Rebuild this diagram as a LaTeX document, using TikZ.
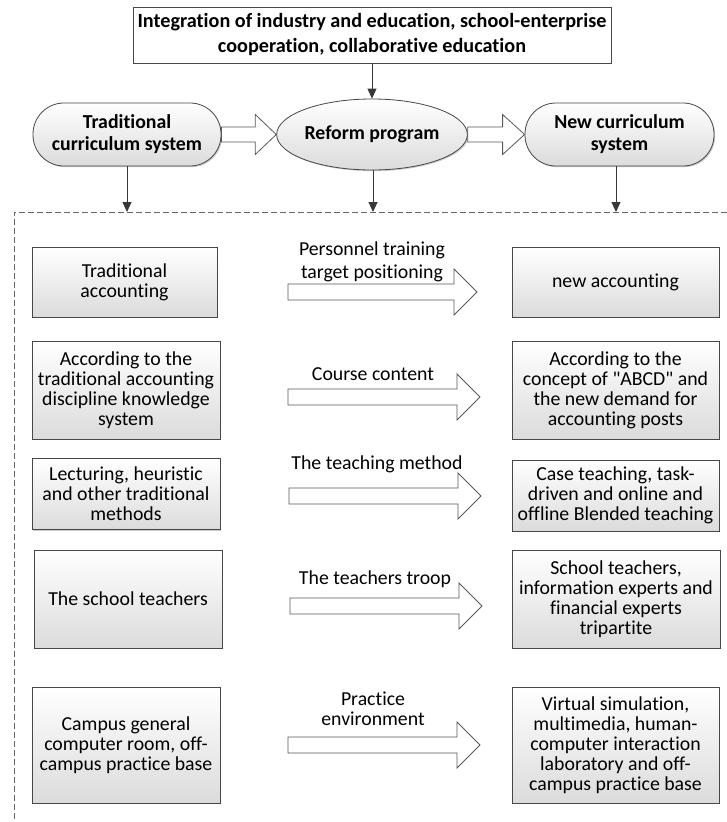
\documentclass[tikz,border=0pt]{standalone}
\usepackage{fontspec}
\setmainfont[Ligatures={NoCommon}]{Carlito}
\usetikzlibrary{shadows,calc,arrows.meta,shapes.geometric}

% Hollow block arrow between two named coordinates:
% #1 start, #2 tip, #3 half body width, #4 half head width, #5 head length
\newcommand{\fatarrow}[5]{%
  \path[blockarrow] let \p1=(#1), \p2=(#2) in
    (\x1,\y1+#3pt) -- (\x2-#5pt,\y1+#3pt) -- (\x2-#5pt,\y1+#4pt) --
    (\x2,\y1) -- (\x2-#5pt,\y1-#4pt) -- (\x2-#5pt,\y1-#3pt) --
    (\x1,\y1-#3pt) -- cycle;}

\tikzset{
  txt/.style={font=\fontsize{19.8}{20}\selectfont, align=center, text=black, inner sep=0pt},
  shade/.style={top color=white, bottom color=black!14,
    drop shadow={shadow xshift=1.2pt, shadow yshift=-1.2pt, fill=black!50, opacity=0.4}},
  box/.style={txt, draw=black!72, line width=0.8pt, shade},
  headbox/.style={txt, draw=black!72, line width=0.8pt, fill=white,
    font=\bfseries\fontsize{20.2}{25}\selectfont},
  stadium/.style={txt, draw=black!72, line width=0.8pt, shade, rounded corners=31pt,
    font=\bfseries\fontsize{19.8}{22}\selectfont},
  oval/.style={txt, draw=black!72, line width=0.8pt, shade, ellipse,
    font=\bfseries\fontsize{19.8}{22}\selectfont},
  link/.style={draw=black!78, line width=0.9pt, -{Triangle[length=10pt,width=9pt]}},
  blockarrow/.style={draw=black!65, line width=0.8pt, fill=white},
  frame/.style={draw=black!60, line width=0.8pt, dash pattern=on 6pt off 3pt},
  lbl/.style={txt}
}

\begin{document}
\begin{tikzpicture}[x=1pt,y=-1pt]
  \useasboundingbox (0,0) rectangle (727,822);

  % dashed frame around the comparison table
  \draw[frame] (727,212) -- (14,212) -- (14,822);

  % header row
  \node[headbox, minimum width=478pt, minimum height=56pt] (top) at (372,35)
    {Integration of industry and education, school-enterprise\\cooperation, collaborative education};
  \node[stadium, minimum width=188pt, minimum height=63pt] (trad) at (127,134.5)
    {Traditional\\curriculum system};
  \node[oval, minimum width=162pt, minimum height=71pt] (reform) at (372,134.5)
    {Reform program};
  \node[stadium, minimum width=189pt, minimum height=63pt] (new) at (619.5,134.5)
    {New curriculum\\system};

  \draw[link] (top.south -| reform) -- (reform.north);
  \fatarrow{trad.east}{reform.west}{7.5}{20}{21}
  \fatarrow{reform.east}{new.west}{7.5}{20}{22}

  \coordinate (d1) at (127,212);
  \coordinate (d2) at (373,212);
  \coordinate (d3) at (616,212);
  \draw[link] (trad.south -| d1) -- (d1);
  \draw[link] (reform.south -| d2) -- (d2);
  \draw[link] (new.south -| d3) -- (d3);

  % row 1
  \node[box, minimum width=185pt, minimum height=70pt] (l1) at (124.5,282)
    {Traditional\\accounting};
  \node[box, minimum width=207pt, minimum height=70pt] (r1) at (615.5,282)
    {new accounting};
  \coordinate (a1s) at (288,292); \coordinate (a1e) at (477,292);
  \fatarrow{a1s}{a1e}{8}{23}{23}
  \node[lbl] (t1) at (372,261.5) {Personnel training\\[3pt]target positioning};

  % row 2
  \node[box, minimum width=188pt, minimum height=98pt] (l2) at (126,390)
    {According to the\\traditional accounting\\discipline knowledge\\system};
  \node[box, minimum width=207pt, minimum height=98pt] (r2) at (615.5,390)
    {According to the\\concept of \textquotedbl ABCD\textquotedbl{} and\\the new demand for\\accounting posts};
  \coordinate (a2s) at (288,397); \coordinate (a2e) at (480,397);
  \fatarrow{a2s}{a2e}{8}{23}{23}
  \node[lbl] (t2) at (373,374) {Course content};

  % row 3
  \node[box, minimum width=188pt, minimum height=71pt] (l3) at (126,494)
    {Lecturing, heuristic\\and other traditional\\methods};
  \node[box, minimum width=207pt, minimum height=71pt] (r3) at (615.5,495.5)
    {Case teaching, task-\\driven and online and\\offline Blended teaching};
  \coordinate (a3s) at (289,496); \coordinate (a3e) at (481,496);
  \fatarrow{a3s}{a3e}{8}{23}{23}
  \node[lbl] (t3) at (377,464) {The teaching method};

  % row 4
  \node[box, minimum width=188pt, minimum height=98pt] (l4) at (128,599)
    {The school teachers};
  \node[box, minimum width=208pt, minimum height=98pt] (r4) at (616,599)
    {School teachers,\\information experts and\\financial experts\\tripartite};
  \coordinate (a4s) at (290,606); \coordinate (a4e) at (482,606);
  \fatarrow{a4s}{a4e}{8}{23}{23}
  \node[lbl] (t4) at (375,579) {The teachers troop};

  % row 5
  \node[box, minimum width=188pt, minimum height=116pt] (l5) at (126,745)
    {Campus general\\computer room, off-\\campus practice base};
  \node[box, minimum width=207pt, minimum height=116pt] (r5) at (615.5,745)
    {Virtual simulation,\\multimedia, human-\\computer interaction\\laboratory and off-\\campus practice base};
  \coordinate (a5s) at (288,745); \coordinate (a5e) at (480,745);
  \fatarrow{a5s}{a5e}{8}{23}{23}
  \node[lbl] (t5) at (373,709) {Practice\\environment};
\end{tikzpicture}
\end{document}
